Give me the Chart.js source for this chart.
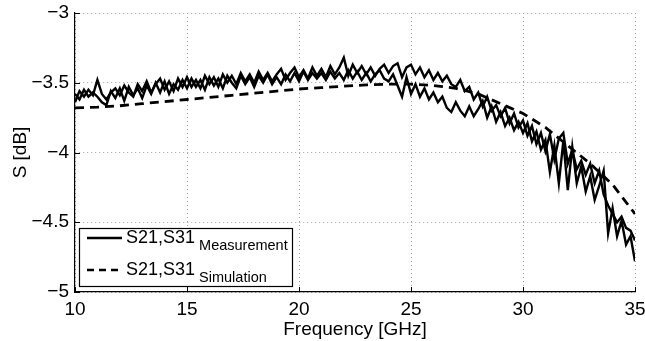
<!DOCTYPE html>
<html>
<head>
<meta charset="utf-8">
<script src="https://cdn.jsdelivr.net/npm/chart.js@4/dist/chart.umd.min.js"></script>
<style>
	html, body { margin: 0; padding: 0; background: #fff; }
	#wrap { position: relative; width: 645px; height: 341px; }
</style>
</head>
<body>
<div id="wrap"><canvas id="s-plot"></canvas></div>
<script>

const xTicks = [ 10, 15, 20, 25, 30, 35 ];
const yTicks = [ -5, -4.5, -4, -3.5, -3 ];

// simulation (smooth, dashed)
const simFreq = [ 10, 11, 12, 13, 14, 15, 16, 17, 18, 19, 20, 21, 22, 23, 24, 25, 26, 27, 28, 29, 30, 31, 32, 33, 34, 35 ];
const simValues = [ -3.68, -3.675, -3.665, -3.65, -3.635, -3.62, -3.605, -3.59, -3.575, -3.56, -3.545, -3.535, -3.525, -3.515, -3.51,
	-3.51, -3.52, -3.54, -3.58, -3.65, -3.72, -3.82, -3.95, -4.08, -4.23, -4.44 ];

// measurement sweep
const measFreq = [
	10, 10.2, 10.4, 10.6, 10.8, 11, 11.2, 11.4, 11.6, 11.8, 12, 12.2, 12.4, 12.6, 12.8,
	13, 13.2, 13.4, 13.6, 13.8, 14, 14.2, 14.4, 14.6, 14.8, 15, 15.2, 15.4, 15.6, 15.8,
	16, 16.2, 16.4, 16.6, 16.8, 17, 17.2, 17.4, 17.6, 17.8, 18, 18.2, 18.4, 18.6, 18.8,
	19, 19.2, 19.4, 19.6, 19.8, 20, 20.2, 20.4, 20.6, 20.8, 21, 21.2, 21.4, 21.6, 21.8,
	22, 22.2, 22.4, 22.6, 22.8, 23, 23.2, 23.4, 23.6, 23.8, 24, 24.2, 24.4, 24.6, 24.8,
	25, 25.2, 25.4, 25.6, 25.8, 26, 26.2, 26.4, 26.6, 26.8, 27, 27.2, 27.4, 27.6, 27.8,
	28, 28.2, 28.4, 28.6, 28.8, 29, 29.2, 29.4, 29.6, 29.8, 30, 30.2, 30.4, 30.6, 30.8,
	31, 31.2, 31.4, 31.6, 31.8, 32, 32.2, 32.4, 32.6, 32.8, 33, 33.2, 33.4, 33.6, 33.8,
	34, 34.2, 34.4, 34.6, 34.8, 35
];

const measS21 = [
	-3.64, -3.56, -3.60, -3.55, -3.59,  -3.48, -3.58, -3.62, -3.57, -3.54,
	-3.59, -3.52, -3.57, -3.60, -3.51,  -3.56, -3.49, -3.57, -3.51, -3.47,
	-3.55, -3.49, -3.56, -3.47, -3.53,  -3.46, -3.53, -3.48, -3.54, -3.45,
	-3.51, -3.46, -3.53, -3.44, -3.50,  -3.45, -3.51, -3.43, -3.49, -3.44,
	-3.50, -3.42, -3.48, -3.43, -3.49,  -3.44, -3.40, -3.48, -3.43, -3.39,
	-3.46, -3.41, -3.47, -3.39, -3.45,  -3.40, -3.46, -3.38, -3.44, -3.39,
	-3.32, -3.45, -3.37, -3.43, -3.38,  -3.44, -3.39, -3.45, -3.40, -3.37,
	-3.43, -3.38, -3.36, -3.46, -3.39,  -3.37, -3.44, -3.39, -3.46, -3.41,
	-3.48, -3.43, -3.49, -3.45, -3.51,  -3.53, -3.48, -3.56, -3.53, -3.62,
	-3.57, -3.67, -3.60, -3.70, -3.66,  -3.74, -3.68, -3.79, -3.72, -3.82,
	-3.77, -3.88, -3.81, -3.94, -3.86,  -3.99, -3.87, -4.05, -3.90, -3.86,
	-4.08, -3.98, -4.12, -4.06, -4.16,  -4.08, -4.22, -4.13, -4.30, -4.38,
	-4.44, -4.50, -4.46, -4.54, -4.56,  -4.63
];

const measS31 = [
	-3.58, -3.62, -3.55, -3.60, -3.57,  -3.60, -3.64, -3.66, -3.56, -3.61,
	-3.54, -3.63, -3.53, -3.59, -3.54,  -3.61, -3.52, -3.58, -3.50, -3.57,
	-3.49, -3.58, -3.51, -3.55, -3.48,  -3.54, -3.47, -3.53, -3.48, -3.55,
	-3.46, -3.52, -3.47, -3.54, -3.45,  -3.50, -3.54, -3.45, -3.51, -3.46,
	-3.53, -3.45, -3.50, -3.44, -3.51,  -3.46, -3.51, -3.44, -3.49, -3.43,
	-3.49, -3.42, -3.48, -3.43, -3.47,  -3.43, -3.48, -3.42, -3.47, -3.43,
	-3.48, -3.41, -3.47, -3.42, -3.48,  -3.43, -3.49, -3.44, -3.41, -3.47,
	-3.49, -3.44, -3.52, -3.60, -3.46,  -3.58, -3.51, -3.60, -3.54, -3.62,
	-3.57, -3.64, -3.60, -3.68, -3.71,  -3.64, -3.70, -3.74, -3.67, -3.74,
	-3.69, -3.63, -3.75, -3.67, -3.78,  -3.71, -3.81, -3.75, -3.84, -3.78,
	-3.86, -3.79, -3.92, -3.85, -3.98,  -3.91, -4.14, -3.95, -4.22, -3.92,
	-4.27, -3.96, -4.22, -4.10, -4.28,  -4.17, -4.34, -4.24, -4.13, -4.58,
	-4.40, -4.60, -4.49, -4.66, -4.60,  -4.78
];

const font = '"Liberation Sans", Arial, sans-serif';

const toPoints = ( xs, ys ) => ys.map( ( y, i ) => ( { x: xs[ i ], y: y } ) );
const minus = ( v ) => String( v ).replace( '-', '\u2212' );
const noPad = ( s ) => { s.paddingTop = 0; s.paddingBottom = 0; s.paddingLeft = 0; s.paddingRight = 0; };

// MATLAB-ish inward ticks and the boxed legend with subscripts
const matlabBits = {
	id: 'matlabBits',
	afterDatasetsDraw( chart ) {

		const ctx = chart.ctx;
		const xs = chart.scales.x, ys = chart.scales.y;
		const area = chart.chartArea;

		ctx.save();
		ctx.strokeStyle = '#000';
		ctx.lineWidth = 1;
		ctx.beginPath();
		for ( const t of yTicks ) {
			const py = Math.round( ys.getPixelForValue( t ) ) + .5;
			ctx.moveTo( area.left, py );
			ctx.lineTo( area.left + 5, py );
		}
		for ( const t of xTicks ) {
			const px = Math.round( xs.getPixelForValue( t ) ) + .5;
			ctx.moveTo( px, area.bottom );
			ctx.lineTo( px, area.bottom - 5 );
		}
		ctx.stroke();

		// legend box
		const bx = 79, by = 228, bw = 213, bh = 58;
		ctx.fillStyle = '#fff';
		ctx.fillRect( bx, by, bw, bh );
		ctx.lineWidth = 1.2;
		ctx.strokeRect( bx + .5, by + .5, bw, bh );

		const rows = [
			{ dash: [], sub: 'Measurement', y: 238 },
			{ dash: [ 7, 5 ], sub: 'Simulation', y: 270 }
		];
		for ( const r of rows ) {
			ctx.setLineDash( r.dash );
			ctx.lineWidth = 2.5;
			ctx.beginPath();
			ctx.moveTo( 87, r.y );
			ctx.lineTo( 122, r.y );
			ctx.stroke();
			ctx.setLineDash( [] );
			ctx.fillStyle = '#000';
			ctx.textBaseline = 'alphabetic';
			ctx.textAlign = 'left';
			ctx.font = '18px ' + font;
			ctx.fillText( 'S21,S31', 126, r.y + 5 );
			const w = ctx.measureText( 'S21,S31' ).width;
			ctx.font = '14.5px ' + font;
			ctx.fillText( r.sub, 126 + w + 4, r.y + 12 );
		}
		ctx.restore();

	}
};

const sCTX = document.getElementById('s-plot');

const sData = {
	datasets: [{
		label: 'S21 Measurement',
		data: toPoints( measFreq, measS21 ),
		borderColor: '#000',
		borderWidth: 2.4
	},{
		label: 'S31 Measurement',
		data: toPoints( measFreq, measS31 ),
		borderColor: '#000',
		borderWidth: 2.4
	},{
		label: 'Simulation',
		data: toPoints( simFreq, simValues ),
		borderColor: '#000',
		borderWidth: 2.8,
		borderDash: [ 9, 6 ]
	}]
};

const sConfig = {
	type: 'line',
	data: sData,
	plugins: [ matlabBits ],
	options: {
		responsive: true,
		maintainAspectRatio: false,
		animation: false,
		layout: {
			padding: { top: 13, right: 10, left: 0, bottom: 0 }
		},
		elements: {
			point: { radius: 0 },
			line: { tension: 0 }
		},
		plugins: {
			legend: { display: false },
			tooltip: { enabled: false }
		},
		scales: {
			x: {
				type: 'linear',
				min: 10,
				max: 35,
				afterBuildTicks: ( s ) => { s.ticks = xTicks.map( v => ( { value: v } ) ); },
				afterFit: ( s ) => { s.height = 49; noPad( s ); },
				grid: { color: '#a0a0a0', drawTicks: false, lineWidth: 1 },
				border: { display: true, color: '#000', width: 1.2, dash: [ 1, 3 ] },
				ticks: {
					color: '#000',
					padding: 6,
					maxRotation: 0,
					font: { family: font, size: 19 },
					callback: ( v ) => minus( v )
				},
				title: {
					display: true,
					text: 'Frequency [GHz]',
					color: '#000',
					font: { family: font, size: 19 },
					padding: { top: 2, bottom: 0 }
				}
			},
			y: {
				min: -5,
				max: -3,
				afterBuildTicks: ( s ) => { s.ticks = yTicks.map( v => ( { value: v } ) ); },
				afterFit: ( s ) => { s.width = 75; noPad( s ); },
				grid: { color: '#a0a0a0', drawTicks: false, lineWidth: 1 },
				border: { display: true, color: '#000', width: 1.2, dash: [ 1, 3 ] },
				ticks: {
					color: '#000',
					padding: 6,
					font: { family: font, size: 19 },
					callback: ( v ) => minus( v )
				},
				title: {
					display: true,
					text: 'S [dB]',
					color: '#000',
					font: { family: font, size: 19 },
					padding: { top: 9, bottom: 0 }
				}
			}
		}
	}
};

const sChart = new Chart( sCTX, sConfig );

</script>
</body>
</html>
